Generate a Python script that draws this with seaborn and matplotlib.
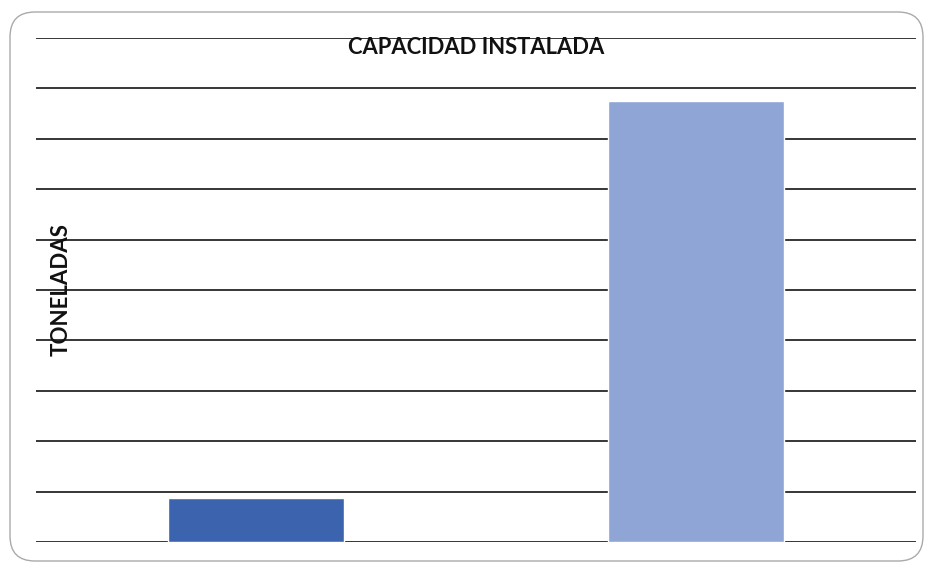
import matplotlib
matplotlib.use("Agg")
import matplotlib.pyplot as plt
import seaborn as sns
import pandas as pd
from matplotlib.patches import FancyBboxPatch

categories = ["Producción", "Capacidad instalada"]
values = [0.87, 8.75]
colors = ["#3C64AE", "#8FA5D6"]
title = "CAPACIDAD INSTALADA"
ylabel = "TONELADAS"

sns.set_theme(style="white")
plt.rcParams["font.family"] = ["Lato", "DejaVu Sans"]

df = pd.DataFrame({"cat": categories, "val": values})

fig = plt.figure(figsize=(9.29, 5.62), dpi=100)
ax = fig.add_axes([36/929, 1-542/562, (916-36)/929, (542-38)/562])

sns.barplot(data=df, x="cat", y="val", hue="cat", palette=colors, legend=False,
            width=0.4, saturation=1, ax=ax, edgecolor="white", linewidth=1, zorder=3)

ax.set_ylim(0, 10)
ax.set_xlim(-0.5, 1.5)
ax.set_yticks(range(0, 11))
ax.yaxis.grid(True, color="#262626", linewidth=1.3, zorder=0)
ax.set_axisbelow(True)
ax.set_yticklabels([])
ax.set_xticks([])
ax.set_xlabel("")
ax.set_ylabel("")
ax.tick_params(left=False, bottom=False)
for s in ax.spines.values():
    s.set_visible(False)

fig.text(476/929, 1-48/562, title, ha="center", va="center",
         fontsize=15.8, fontweight="bold", color="#111111")
fig.text(61/929, 1-290/562, ylabel, ha="center", va="center", rotation=90,
         fontsize=16, fontweight="bold", color="#111111")

border = FancyBboxPatch((10, 1), 913, 549, boxstyle="round,pad=0,rounding_size=25",
                        transform=None, fill=False, edgecolor="#aaaaaa", linewidth=1.0)
fig.patches.append(border)

fig.savefig("out.png", dpi=100)
